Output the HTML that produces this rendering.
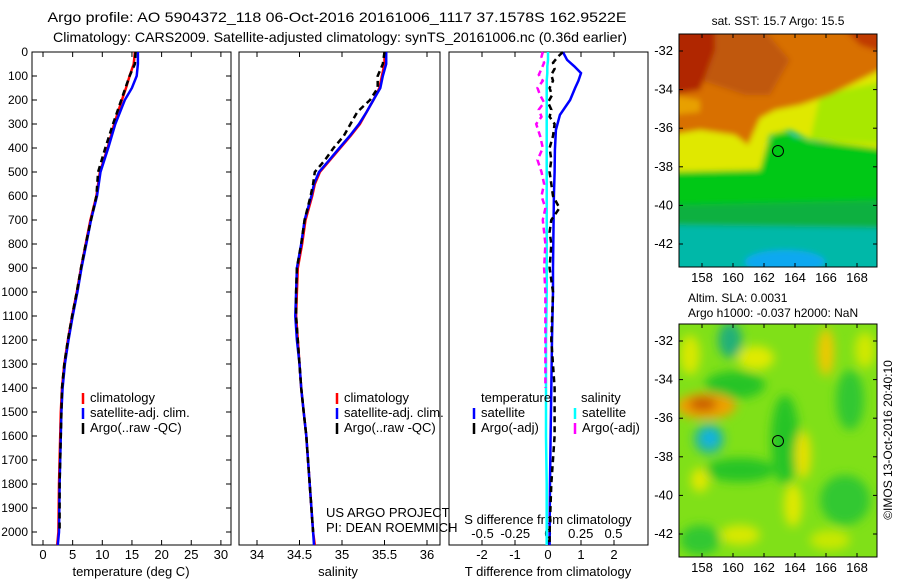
<!DOCTYPE html>
<html><head><meta charset="utf-8"><style>
body{margin:0;background:#fff;width:900px;height:580px;overflow:hidden}
svg{display:block;font-family:"Liberation Sans",sans-serif;font-size:12px}
</style></head><body>
<svg id="s" width="900" height="580" xmlns="http://www.w3.org/2000/svg">
<defs>
<filter id="bl" x="-20%" y="-20%" width="140%" height="140%"><feGaussianBlur stdDeviation="3"/></filter>
<filter id="bl2" x="-30%" y="-30%" width="160%" height="160%"><feGaussianBlur stdDeviation="5"/></filter>
<clipPath id="c1"><rect x="679" y="34" width="198" height="233"/></clipPath>
<clipPath id="c2"><rect x="679" y="324" width="198" height="233"/></clipPath>
</defs>
<text x="337" y="22" text-anchor="middle" font-size="14" textLength="579" lengthAdjust="spacingAndGlyphs">Argo profile: AO 5904372_118 06-Oct-2016 20161006_1117 37.1578S 162.9522E</text>
<text x="340" y="42" text-anchor="middle" font-size="14" textLength="574" lengthAdjust="spacingAndGlyphs">Climatology: CARS2009. Satellite-adjusted climatology: synTS_20161006.nc (0.36d earlier)</text>

<g clip-path="url(#c1)">
<rect x="679" y="34" width="198" height="233" fill="#00c0b0"/>
<g filter="url(#bl)">
<polygon points="670,215 890,210 890,270 670,270" fill="#00b8a8"/>
<ellipse cx="785" cy="262" rx="40" ry="12" fill="#10a8f0"/>
<polygon points="670,145 890,140 890,228 670,225" fill="#10b040"/>
<polygon points="670,168 760,168 770,140 800,138 820,145 890,138 890,200 670,205" fill="#00c818"/>
<polygon points="670,60 890,40 890,150 810,140 790,130 770,135 760,170 670,172" fill="#e0e800"/>
<polygon points="820,95 890,80 890,145 810,140" fill="#a8e800"/>
<polygon points="670,25 890,25 890,65 860,80 830,95 800,105 775,110 760,118 748,145 735,135 700,130 670,135" fill="#d87000"/>
<polygon points="670,25 760,25 790,60 770,95 745,95 700,80 670,80" fill="#c05808"/>
<polygon points="670,25 715,25 715,50 700,90 670,95" fill="#b02800"/>
<polygon points="840,25 890,25 890,55 860,45" fill="#c03a00"/>
<polygon points="670,95 700,100 700,112 670,115" fill="#e8a000"/>
<ellipse cx="782" cy="142" rx="12" ry="10" fill="#00c818"/>
</g>
</g>
<rect x="679" y="34" width="198" height="233" fill="none" stroke="#000"/>
<circle cx="778" cy="151" r="5.5" fill="none" stroke="#000"/>
<text x="778" y="25" text-anchor="middle">sat. SST: 15.7 Argo: 15.5</text>

<g clip-path="url(#c2)">
<rect x="679" y="324" width="198" height="233" fill="#80e018"/>
<g filter="url(#bl2)">
<ellipse cx="735" cy="385" rx="30" ry="14" fill="#28c428"/>
<ellipse cx="785" cy="440" rx="14" ry="45" fill="#28c428"/>
<ellipse cx="740" cy="470" rx="35" ry="12" fill="#28c428"/>
<ellipse cx="850" cy="400" rx="14" ry="30" fill="#30c830"/>
<ellipse cx="845" cy="500" rx="25" ry="25" fill="#30c830"/>
<ellipse cx="700" cy="540" rx="20" ry="15" fill="#30c830"/>
<ellipse cx="690" cy="355" rx="10" ry="20" fill="#d8e800"/>
<ellipse cx="730" cy="340" rx="12" ry="18" fill="#20b078"/>
<ellipse cx="756" cy="358" rx="18" ry="12" fill="#e0ea00"/>
<ellipse cx="826" cy="352" rx="8" ry="24" fill="#f0c800"/>
<ellipse cx="865" cy="350" rx="10" ry="18" fill="#d0e800"/>
<ellipse cx="706" cy="406" rx="30" ry="13" fill="#f0a000"/>
<ellipse cx="703" cy="404" rx="14" ry="7" fill="#c85a00"/>
<ellipse cx="709" cy="439" rx="15" ry="15" fill="#20b8a0"/>
<ellipse cx="710" cy="438" rx="7" ry="7" fill="#10b0f0"/>
<ellipse cx="803" cy="455" rx="8" ry="24" fill="#e8e000"/>
<ellipse cx="700" cy="480" rx="9" ry="12" fill="#e0e800"/>
<ellipse cx="793" cy="505" rx="9" ry="22" fill="#e0e800"/>
<ellipse cx="740" cy="535" rx="20" ry="10" fill="#d8e800"/>
<ellipse cx="830" cy="540" rx="20" ry="10" fill="#c8e800"/>
</g>
</g>
<rect x="679" y="324" width="198" height="233" fill="none" stroke="#000"/>
<circle cx="778" cy="441" r="5.5" fill="none" stroke="#000"/>
<text x="688" y="302">Altim. SLA: 0.0031</text>
<text x="688" y="317">Argo h1000: -0.037 h2000: NaN</text>
<text transform="translate(892,440) rotate(-90)" text-anchor="middle">©IMOS 13-Oct-2016 20:40:10</text>
<g id="g"></g>
</svg>
<script>
// profile data
const depthT=[0,50,100,150,200,300,400,500,600,700,800,900,1000,1100,1200,1300,1400,1500,1600,1800,2000,2054];
const tempClim=[15.5,15.3,14.6,14.0,13.3,12.0,10.9,9.6,9.0,8.0,7.2,6.4,5.7,4.9,4.2,3.6,3.2,3.0,2.9,2.7,2.6,2.4];
const tempSat=[16.0,16.0,15.8,15.0,13.8,12.2,11.0,9.7,9.1,8.1,7.3,6.5,5.8,5.0,4.3,3.7,3.3,3.1,3.0,2.8,2.7,2.5];
const tempArgo=[15.6,15.5,14.6,13.9,13.2,11.8,10.5,9.3,9.0,8.1,7.2,6.4,5.7,4.9,4.2,3.6,3.2,3.1,3.0,2.8,2.8];
const depthS=[0,50,100,150,200,250,300,350,400,450,500,550,600,700,800,900,1000,1100,1200,1300,1400,1500,1600,1700,1800,1900,2000,2054];
const salClim=[35.5,35.5,35.47,35.44,35.37,35.29,35.21,35.1,34.98,34.86,34.74,34.68,34.65,34.57,34.53,34.48,34.47,34.46,34.48,34.5,34.52,34.55,34.58,34.6,34.62,34.64,34.66,34.68];
const salSat=[35.52,35.52,35.48,35.45,35.37,35.29,35.2,35.09,34.97,34.85,34.73,34.67,34.64,34.56,34.52,34.47,34.46,34.45,34.47,34.5,34.52,34.55,34.58,34.6,34.62,34.64,34.66,34.67];
const salArgo=[35.5,35.48,35.42,35.42,35.33,35.18,35.1,35.02,34.9,34.8,34.68,34.66,34.63,34.56,34.52,34.47,34.46,34.46,34.48,34.5,34.52,34.55,34.58,34.6,34.62,34.64,34.66];
const depthD=[0,33,60,88,120,150,200,262,325,408,500,600,700,800,900,1000,1200,1400,1600,1800,2000,2054];
const dTsat=[0.45,0.58,0.8,1.0,0.92,0.82,0.67,0.36,0.24,0.21,0.2,0.18,0.17,0.16,0.15,0.15,0.12,0.1,0.08,0.06,0.05,0.05];
const depthDA=[0,20,45,70,95,120,150,180,210,240,270,300,350,400,450,500,550,600,650,700,750,800,900,1000,1200,1400,1600,1800,2000,2054];
const dTargo=[0.45,0.3,0.15,0.2,0.1,0.15,0.05,0.12,0.0,0.1,0.05,0.2,0.15,0.05,0.1,0.05,0.1,0.15,0.35,0.1,0.05,0.1,0.05,0.15,0.1,0.2,0.2,0.1,0.05,0.05];
const dSsat=[0,0,-0.005,-0.005,-0.01,-0.01,-0.01,-0.01,-0.01,-0.01,-0.01,-0.01,-0.01,-0.01,-0.01,-0.01,-0.015,-0.015,-0.015,-0.01,-0.01,-0.01];
const dSargo=[-0.04,-0.05,-0.03,-0.05,-0.07,-0.04,-0.08,-0.06,-0.03,-0.07,-0.05,-0.09,-0.06,-0.04,-0.08,-0.05,-0.03,-0.05,-0.02,-0.04,-0.03,-0.02,-0.03,-0.02,-0.02,-0.02];
const depthTicks=[0,100,200,300,400,500,600,700,800,900,1000,1100,1200,1300,1400,1500,1600,1700,1800,1900,2000];
const tempTicks=[0,5,10,15,20,25,30];
const salTicks=[34,34.5,35,35.5,36];
const dTTicks=[-2,-1,0,1,2];
const dSTicks=[-0.5,-0.25,0,0.25,0.5];
const latTicks=[-32,-34,-36,-38,-40,-42];
const lonTicks=[158,160,162,164,166,168];

const NS='http://www.w3.org/2000/svg';
const G=document.getElementById('g');
function mk(t,a,p){const e=document.createElementNS(NS,t);for(const k in a)e.setAttribute(k,a[k]);(p||G).appendChild(e);return e;}
const yD=d=>52+d*0.24;
const xT=t=>43+5.93*t;
const xS=s=>257+85*(s-34);
const xDT=v=>548+33*v;
const xDS=v=>548+131*v;
const yLat=l=>51+(-32-l)*19.3;
const xLon=l=>702+(l-158)*15.5;

const panels=[[32,231,'temperature-panel'],[239,440,'salinity-panel'],[449,648,'difference-panel']];
panels.forEach(p=>{
 const r=mk('rect',{x:p[0],y:52,width:p[1]-p[0],height:493,fill:'none',stroke:'#000'});
 
 
});
depthTicks.forEach(d=>{
 const t=mk('text',{x:28,y:yD(d)+4,'text-anchor':'end'});t.textContent=d;
 
 
 mk('line',{x1:32,x2:37,y1:yD(d),y2:yD(d),stroke:'#000'});
 mk('line',{x1:226,x2:231,y1:yD(d),y2:yD(d),stroke:'#000'});
});
function xticks(arr,fx,lab,y1){arr.forEach(v=>{
 const x=fx(v);
 mk('line',{x1:x,x2:x,y1:545,y2:540,stroke:'#000'});
 mk('line',{x1:x,x2:x,y1:52,y2:57,stroke:'#000'});
 const t=mk('text',{x:x,y:y1,'text-anchor':'middle','font-size':13});t.textContent=String(v);
 
 
});}
xticks(tempTicks,xT,'temperature-tick-label',559);
xticks(salTicks,xS,'salinity-tick-label',559);
xticks(dTTicks,xDT,'t-diff-tick-label',559);
dSTicks.forEach(v=>{const t=mk('text',{x:xDS(v),y:538,'text-anchor':'middle','font-size':13});t.textContent=String(v);
 
 });
function lab(x,y,s,n,anchor){const t=mk('text',{x:x,y:y,'text-anchor':anchor||'start','font-size':13});t.textContent=s;
 
 return t;}
lab(131,576,'temperature (deg C)','temperature-axis-title','middle');
lab(338,576,'salinity','salinity-axis-title','middle');
lab(548,576,'T difference from climatology','t-diff-axis-title','middle');
lab(548,524,'S difference from climatology','s-diff-axis-title','middle');
lab(326,517,'US ARGO PROJECT','project-label');
lab(326,532,'PI: DEAN ROEMMICH','pi-label');

function line(xs,ds,fx,col,w,dash,n){
 const pts=xs.map((v,i)=>fx(v).toFixed(1)+','+yD(ds[i]).toFixed(1)).join(' ');
 const a={points:pts,fill:'none',stroke:col,'stroke-width':w};if(dash)a['stroke-dasharray']=dash;
 const e=mk('polyline',a);
 
 
}
line(tempClim,depthT,xT,'#f00',2.5,null,'temp-climatology-line');
line(tempSat,depthT,xT,'#00f',2.5,null,'temp-satellite-line');
line(tempArgo,depthT,xT,'#000',2.5,'6,4','temp-argo-line');
line(salClim,depthS,xS,'#f00',2.5,null,'sal-climatology-line');
line(salSat,depthS,xS,'#00f',2.5,null,'sal-satellite-line');
line(salArgo,depthS,xS,'#000',2.5,'6,4','sal-argo-line');
line(dTsat,depthD,xDT,'#00f',2.5,null,'dt-satellite-line');
line(dTargo,depthDA,xDT,'#000',2.5,'6,4','dt-argo-line');
line(dSsat,depthD,xDS,'#0ff',2.5,null,'ds-satellite-line');
line(dSargo,depthDA,xDS,'#f0f',2.5,'6,4','ds-argo-line');

function leg(x,y,col,s,n){mk('line',{x1:x,x2:x,y1:y-9,y2:y+2,stroke:col,'stroke-width':2.5});lab(x+7,y,s,n);}
[[83,'#f00','climatology'],[83,'#00f','satellite-adj. clim.'],[83,'#000','Argo(..raw -QC)']].forEach((l,i)=>leg(l[0],402+i*15,l[1],l[2],'temp-legend-entry'));
[[337,'#f00','climatology'],[337,'#00f','satellite-adj. clim.'],[337,'#000','Argo(..raw -QC)']].forEach((l,i)=>leg(l[0],402+i*15,l[1],l[2],'sal-legend-entry'));
lab(481,402,'temperature','diff-legend-temp-header');lab(581,402,'salinity','diff-legend-sal-header');
leg(474,417,'#00f','satellite','diff-legend-entry');leg(474,432,'#000','Argo(-adj)','diff-legend-entry');
leg(575,417,'#0ff','satellite','diff-legend-entry');leg(575,432,'#f0f','Argo(-adj)','diff-legend-entry');

[[34,267],[324,557]].forEach(m=>{
 latTicks.forEach(l=>{const y=yLat(l)+(m[0]-34);
  mk('line',{x1:679,x2:683,y1:y,y2:y,stroke:'#000'});mk('line',{x1:873,x2:877,y1:y,y2:y,stroke:'#000'});
  lab(673,y+4,String(l),'lat-tick-label','end');});
 lonTicks.forEach(l=>{const x=xLon(l);
  mk('line',{x1:x,x2:x,y1:m[1],y2:m[1]-4,stroke:'#000'});mk('line',{x1:x,x2:x,y1:m[0],y2:m[0]+4,stroke:'#000'});
  lab(x,m[1]+15,String(l),'lon-tick-label','middle');});
});
</script>
</body></html>
